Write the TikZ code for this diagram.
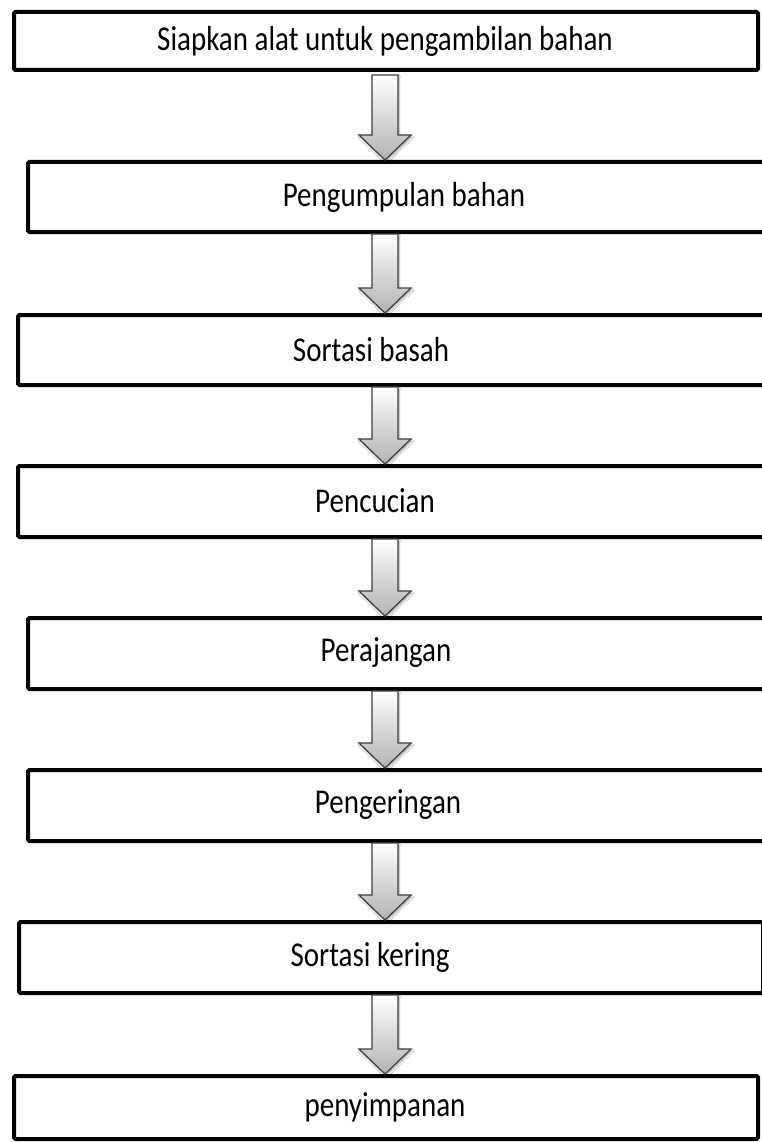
\documentclass[tikz,border=0pt]{standalone}
\usepackage{fontspec}
\setmainfont{Carlito}
\usetikzlibrary{calc,shadows.blur}

% block arrow from the bottom of one stage box to the top of the next
\newcommand\blockarrow[3]{%
  \path[flowarrow] let \p1=($(ax |- #1.south)+(0,#3)$), \p2=($(ax |- #2.north)+(0,-2)$) in
    (\x1-13pt,\y1) -- (\x1+13pt,\y1) -- (\x1+13pt,\y2+25pt) -- (\x1+26pt,\y2+25pt)
    -- (\x1,\y2) -- (\x1-26pt,\y2+25pt) -- (\x1-13pt,\y2+25pt) -- cycle;}
% tall, narrow lettering of the stage names
\newcommand\tallword[1]{\scalebox{1}[1.2]{#1}}

\begin{document}
\begin{tikzpicture}[x=1pt,y=-1pt,
  stage/.style={draw=black, line width=4pt, rounded corners=1.5pt, fill=white,
    anchor=north west, inner sep=0pt, outer sep=0pt},
  stagetext/.style={inner sep=0pt, font=\fontsize{29}{35}\selectfont},
  flowarrow/.style={draw=black!75, line width=1.2pt, line join=miter,
    top color=white, bottom color=black!30,
    blur shadow={shadow xshift=1pt, shadow yshift=-2pt, shadow blur steps=6, shadow opacity=35}}]
\useasboundingbox (0,0) rectangle (762,1142);
\clip (0,0) rectangle (762,1142);
\fill[white] (0,0) rectangle (762,1142);

\coordinate (ax) at (385,0);

% stage boxes
\node[stage, minimum width=744pt, minimum height=58pt] (b1) at (14,12) {};
\node[stage, minimum width=772pt, minimum height=70pt] (b2) at (28,162) {};
\node[stage, minimum width=782pt, minimum height=70pt] (b3) at (18,315) {};
\node[stage, minimum width=782pt, minimum height=71pt] (b4) at (18,466) {};
\node[stage, minimum width=772pt, minimum height=71pt] (b5) at (28,618) {};
\node[stage, minimum width=772pt, minimum height=71pt] (b6) at (28,770) {};
\node[stage, minimum width=744pt, minimum height=71pt] (b7) at (19,922) {};
\node[stage, minimum width=744pt, minimum height=63pt] (b8) at (14,1076) {};

% stage labels
\node[stagetext] (t1) at (385,41) {\tallword{Siapkan alat untuk pengambilan bahan}};
\node[stagetext] (t2) at (404,197) {\tallword{Pengumpulan bahan}};
\node[stagetext] (t3) at (371,350) {\tallword{Sortasi basah}};
\node[stagetext] (t4) at (375,501) {\tallword{Pencucian}};
\node[stagetext] (t5) at (386,653) {\tallword{Perajangan}};
\node[stagetext] (t6) at (388,805) {\tallword{Pengeringan}};
\node[stagetext] (t7) at (370,957) {\tallword{Sortasi kering}};
\node[stagetext] (t8) at (385,1107) {\tallword{penyimpanan}};

% arrows between the stages
\blockarrow{b1}{b2}{5}
\blockarrow{b2}{b3}{2}
\blockarrow{b3}{b4}{2}
\blockarrow{b4}{b5}{2}
\blockarrow{b5}{b6}{2}
\blockarrow{b6}{b7}{2}
\blockarrow{b7}{b8}{2}
\end{tikzpicture}
\end{document}
